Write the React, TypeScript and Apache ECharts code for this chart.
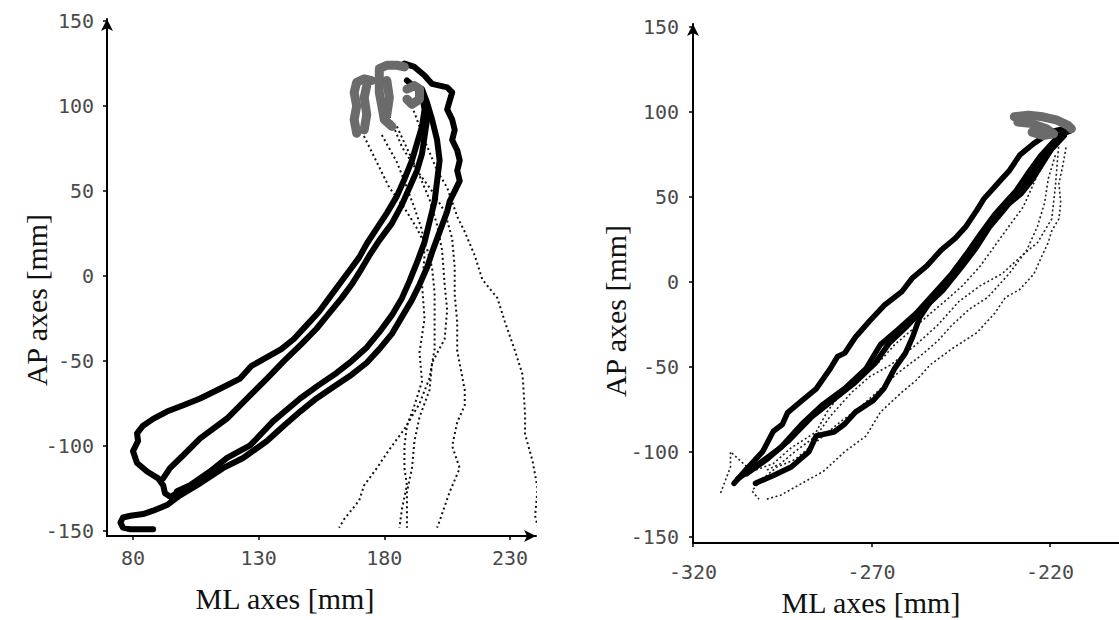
import React, { useEffect, useRef } from "react";
import * as echarts from "echarts";

// ---------- tick values ----------
const leftXTicks = [80, 130, 180, 230];
const leftYTicks = [-150, -100, -50, 0, 50, 100, 150];
const rightXTicks = [-320, -270, -220];
const rightYTicks = [-150, -100, -50, 0, 50, 100, 150];

// ---------- left panel: thick black trajectories ----------
const leftOuter = [
  [195, 107], [196, 98], [195, 88], [193, 78], [191, 68], [188, 57], [185, 47], [181, 37],
  [177, 28], [173, 19], [170, 11], [166, 3], [162, -5], [158, -13], [154, -21], [149, -29],
  [144, -37], [139, -43], [133, -48], [127, -53], [122.6, -60.3], [115, -66], [106.7, -72],
  [100, -76], [93.5, -79.7], [88, -84], [84, -88], [81.6, -92.5], [82, -97], [80, -103],
  [81.6, -110], [85.6, -115], [90, -119], [92, -123], [92.7, -127.7], [95, -130], [98, -127],
];
const leftSecond = [
  [92, -119], [94.7, -113], [100, -105.4], [106.7, -95.5], [117.4, -83.8], [125.4, -72],
  [133.3, -60.3], [140, -50], [147, -40], [153, -31], [158, -22], [163, -13], [167, -5],
  [170, 2], [174, 12], [178, 21], [183, 31], [187, 42], [190, 52], [193, 62], [195, 72],
  [196, 82], [197, 92], [196, 102], [193, 110], [189, 115],
];
const leftThird = [
  [97.5, -126.5], [102.7, -123], [110.6, -115], [117.4, -107], [126.6, -99.6], [135.7, -85.5],
  [146.5, -72], [154, -64], [161, -57], [167, -50], [173, -42], [178, -33], [183, -23],
  [187, -13], [190, -3], [193, 8], [196, 20], [198, 32], [200, 44], [201, 56], [202, 68],
  [201, 80], [199, 92], [197, 102], [195, 110],
];
const leftRight = [
  [188, 125], [192, 123], [196, 118], [199, 113], [202, 112], [205, 111], [207, 108],
  [206, 103], [205, 98], [207, 92], [208, 86], [207, 80], [209, 74], [210, 68], [209, 62],
  [210, 56], [208, 50], [206, 44], [205, 38], [203, 30], [201, 22], [199, 14], [197, 5],
  [194, -5], [191, -14], [187, -24], [183, -34], [178, -43], [173, -51], [167, -58],
  [160, -65], [153, -72], [146.5, -79.7], [140, -88], [133.3, -97], [123.8, -107],
  [115.8, -113], [105.5, -123], [98.7, -129], [93.5, -134.7], [88, -138], [84, -140],
  [79, -141], [76, -142], [75, -145], [76, -148], [79, -149], [84, -149], [88, -149],
];

// ---------- left panel: gray start segments ----------
const leftGrayA = [[169, 84], [168, 92], [169, 100], [168, 108], [169, 114], [172, 116], [175, 115]];
const leftGrayB = [[172, 86], [173, 95], [172, 105], [173, 112]];
const leftGrayC = [[183, 88], [180, 92], [179, 100], [178, 108], [178, 116], [178, 122], [181, 124], [185, 124], [188, 123]];
const leftGrayD = [[181, 95], [182, 105], [181, 115]];
const leftGrayE = [[189, 110], [192, 112], [194, 110], [194, 104], [191, 101], [189, 104]];

// ---------- left panel: dotted trajectories ----------
const leftDot1 = [
  [171, 85], [176, 70], [182, 52], [188, 40], [193, 28], [197, 16], [199, 5], [200, -10],
  [200, -25], [200, -43], [198, -60], [194, -75], [188, -90], [182, -102], [177, -113],
  [172, -123], [170, -132], [164, -143], [162, -148],
];
const leftDot2 = [
  [179, 83], [185, 67], [189, 52], [192, 40], [195, 27], [196, 12], [195, -5], [196, -25],
  [194, -45], [195, -62], [192, -76], [189, -88], [188, -100], [188, -113], [189, -123],
  [187, -137], [186, -148],
];
const leftDot3 = [
  [185, 88], [190, 72], [194, 59], [198, 45], [201, 30], [203, 15], [204, -5], [205, -20],
  [204, -37], [199, -51], [198, -67], [194, -83], [192, -97], [191, -113], [189, -127], [189, -148],
];
const leftDot4 = [
  [182, 94], [187, 76], [193, 62], [199, 50], [204, 38], [207, 22], [208, 5], [208, -11],
  [209, -27], [209, -44], [212, -67], [212, -76], [209, -86], [207, -100], [210, -113],
  [206, -127], [202, -144], [201, -148],
];
const leftDot5 = [
  [191, 100], [196, 80], [201, 62], [205, 52], [209, 35], [212, 26], [216, 12], [219, -2],
  [225, -13], [228, -27], [232, -44], [235, -58], [236, -81], [236, -93], [239, -109],
  [241, -125], [240, -141], [241, -147],
];

// ---------- right panel: thick black trajectories ----------
const rightUpper = [
  [-308.5, -118.6], [-304.5, -109], [-300.5, -100], [-297.5, -88], [-295, -84], [-293.5, -77],
  [-289.5, -70], [-285.5, -63], [-281.5, -51], [-279.5, -44], [-277.5, -42], [-274.5, -32.6],
  [-270.5, -23], [-266.5, -14], [-261.5, -5.8], [-258.5, 2.3], [-254.5, 9.3], [-250.5, 18.6],
  [-246.5, 25.6], [-243.5, 32.6], [-240.5, 42], [-238.5, 48.8], [-235.5, 55.8], [-233.5, 60.5],
  [-231.5, 65], [-228.5, 74.4], [-224.5, 81.4], [-219.5, 88.4], [-214.5, 90.7],
];
const rightMiddle = [
  [-307.5, -116], [-301.5, -107], [-295.5, -97.7], [-289.5, -83.7], [-283.5, -72], [-277.5, -62.8],
  [-271.5, -51], [-267.5, -37], [-262.5, -28], [-257.5, -18.6], [-252.5, -7], [-247.5, 4.7],
  [-243.5, 16], [-239.5, 28], [-235.5, 39.5], [-232.5, 46.5], [-229.5, 53.5], [-226.5, 62.8],
  [-222.5, 74.4], [-217.5, 86], [-214, 89],
];
const rightMiddleB = [
  [-305, -113], [-299, -104], [-293, -93], [-287, -80], [-281, -70], [-275, -60], [-269, -48],
  [-265, -36], [-260, -26], [-255, -15], [-250, -5], [-245, 8], [-241, 19], [-237, 32],
  [-233, 42], [-230, 50], [-227, 57], [-224, 66], [-220, 77], [-216, 86],
];
const rightLower = [
  [-302.5, -118.6], [-297.5, -114], [-292.5, -109], [-287.5, -100], [-285.5, -90.7],
  [-280.5, -88.4], [-277.5, -83.7], [-274.5, -76.7], [-269.5, -69.8], [-266.5, -62.8],
  [-263.5, -51], [-260.5, -42], [-258.5, -32.6], [-256.5, -21], [-253.5, -11.6], [-251.5, -7],
  [-248, 3], [-244, 14], [-240, 25], [-236, 37], [-232, 45], [-228, 52], [-225, 60],
  [-222, 70], [-219, 80], [-216, 88],
];

// ---------- right panel: gray start segments ----------
const rightGrayA = [[-230, 97], [-226, 98], [-222, 97], [-218, 95], [-215, 92], [-214, 90]];
const rightGrayB = [[-229, 94], [-225, 93], [-221, 90], [-219, 87], [-222, 86], [-225, 88]];

// ---------- right panel: dotted trajectories ----------
const rightDot1 = [
  [-215.5, 79], [-216.5, 67.4], [-217.5, 58], [-217, 46.5], [-217.5, 37], [-219.5, 30],
  [-220.5, 23], [-222.5, 14], [-224.5, 4.6], [-228.5, -4.6], [-232.5, -9.3], [-235.5, -18.6],
  [-240.5, -30], [-247.5, -39.5], [-253.5, -48.8], [-257.5, -58], [-261.5, -65], [-267.5, -76.7],
  [-271.5, -90.7], [-277.5, -100], [-283.5, -111.6], [-289.5, -118.6], [-295.5, -125.6], [-299.5, -128],
];
const rightDot2 = [
  [-218.5, 74.4], [-220.5, 60.5], [-221.5, 46.5], [-223.5, 32.6], [-226.5, 18.6], [-231.5, 4.6],
  [-237.5, -9.3], [-242.5, -16], [-247.5, -25.6], [-251.5, -35], [-256.5, -44], [-262.5, -53.5],
  [-268.5, -65], [-273.5, -74.4], [-279.5, -83.7], [-283.5, -90.7], [-287.5, -97.7], [-291.5, -104.7],
  [-296.5, -109], [-300.5, -116], [-303.5, -123], [-301.5, -128],
];
const rightDot3 = [
  [-219.5, 76.7], [-223.5, 62.8], [-227.5, 44], [-231.5, 32.6], [-235.5, 21], [-239.5, 9.3],
  [-244.5, -2.3], [-249.5, -11.6], [-253.5, -18.6], [-258.5, -28], [-263.5, -37], [-267.5, -46.5],
  [-272.5, -55.8], [-277.5, -62.8], [-282.5, -76.7], [-285.5, -88.4], [-292.5, -97.7], [-297.5, -107],
  [-303.5, -111.6], [-309.5, -100], [-309.5, -109], [-312.5, -125.6],
];
const rightDot4 = [
  [-217.5, 82], [-218.5, 55.8], [-219.5, 37], [-223.5, 23], [-227.5, 16], [-233.5, 4.6],
  [-239.5, -2.3], [-245.5, -11.6], [-251.5, -25.6], [-257.5, -37], [-264.5, -48.8], [-270.5, -55.8],
  [-275.5, -65], [-281.5, -79], [-285.5, -90.7], [-291.5, -100], [-295.5, -107], [-299.5, -111],
];

// ---------- styles ----------
const BLACK = { color: "#000", width: 6, cap: "round", join: "round" };
const BLACK_R = { color: "#000", width: 5.5, cap: "round", join: "round" };
const GRAY = { color: "#6b6b6b", width: 9, cap: "round", join: "round" };
const DOT = { color: "#111", width: 2, type: [2, 3] };
const DOT_R = { color: "#222", width: 1.6, type: [2, 2.5] };

function line(data: number[][], gi: number, style: any, z: number) {
  return {
    type: "line",
    xAxisIndex: gi,
    yAxisIndex: gi,
    data,
    symbol: "none",
    showSymbol: false,
    silent: true,
    z,
    lineStyle: style,
  };
}

function axis(ticks: number[], min: number, max: number, gi: number, arrow: boolean, margin: number) {
  return {
    type: "value",
    gridIndex: gi,
    min,
    max,
    axisLine: {
      show: true,
      onZero: false,
      symbol: arrow ? ["none", "arrow"] : "none",
      symbolSize: [9, 12],
      lineStyle: { color: "#000", width: 2 },
    },
    axisTick: {
      show: true,
      customValues: ticks,
      length: 4,
      lineStyle: { color: "#000", width: 1.5 },
    },
    axisLabel: {
      customValues: ticks,
      fontFamily: "DejaVu Sans Mono",
      fontSize: 20,
      color: "#4a4a4a",
      margin,
    },
    splitLine: { show: false },
  };
}

const TITLE_FONT = '30px "Liberation Serif", "Times New Roman", serif';

export default function App() {
  const ref = useRef<HTMLDivElement>(null);
  useEffect(() => {
    if (!ref.current) return;
    const chart = echarts.init(ref.current, undefined, { renderer: "svg" });
    const option: any = {
      animation: false,
      backgroundColor: "#fff",
      grid: [
        { left: 107, top: 19, width: 429, height: 517 },
        { left: 693, top: 24, width: 426, height: 519 },
      ],
      xAxis: [
        axis(leftXTicks, 69.65, 240.35, 0, true, 12),
        axis(rightXTicks, -320, -200.67, 1, false, 19),
      ],
      yAxis: [
        axis(leftYTicks, -152.9, 151.2, 0, true, 13),
        axis(rightYTicks, -153.7, 151.6, 1, true, 14),
      ],
      graphic: [
        { type: "text", x: 285, y: 598, style: { text: "ML axes [mm]", font: TITLE_FONT, fill: "#111", textAlign: "center", textVerticalAlign: "middle" } },
        { type: "text", x: 871, y: 602, style: { text: "ML axes [mm]", font: TITLE_FONT, fill: "#111", textAlign: "center", textVerticalAlign: "middle" } },
        { type: "text", x: 36, y: 300, rotation: Math.PI / 2, style: { text: "AP axes [mm]", font: TITLE_FONT, fill: "#111", textAlign: "center", textVerticalAlign: "middle" } },
        { type: "text", x: 615, y: 311, rotation: Math.PI / 2, style: { text: "AP axes [mm]", font: TITLE_FONT, fill: "#111", textAlign: "center", textVerticalAlign: "middle" } },
      ],
      series: [
        line(leftDot1, 0, DOT, 2),
        line(leftDot2, 0, DOT, 2),
        line(leftDot3, 0, DOT, 2),
        line(leftDot4, 0, DOT, 2),
        line(leftDot5, 0, DOT, 2),
        line(leftOuter, 0, BLACK, 3),
        line(leftSecond, 0, BLACK, 3),
        line(leftThird, 0, BLACK, 3),
        line(leftRight, 0, BLACK, 3),
        line(leftGrayA, 0, GRAY, 4),
        line(leftGrayB, 0, GRAY, 4),
        line(leftGrayC, 0, GRAY, 4),
        line(leftGrayD, 0, GRAY, 4),
        line(leftGrayE, 0, GRAY, 4),
        line(rightDot1, 1, DOT_R, 2),
        line(rightDot2, 1, DOT_R, 2),
        line(rightDot3, 1, DOT_R, 2),
        line(rightDot4, 1, DOT_R, 2),
        line(rightUpper, 1, BLACK_R, 3),
        line(rightMiddle, 1, BLACK_R, 3),
        line(rightMiddleB, 1, BLACK_R, 3),
        line(rightLower, 1, BLACK_R, 3),
        line(rightGrayA, 1, GRAY, 4),
        line(rightGrayB, 1, GRAY, 4),
      ],
    };
    chart.setOption(option);
    return () => chart.dispose();
  }, []);
  return (
    <div
      ref={ref}
      style={{ position: "fixed", left: 0, top: 0, width: 1119, height: 620, background: "#fff" }}
    />
  );
}
